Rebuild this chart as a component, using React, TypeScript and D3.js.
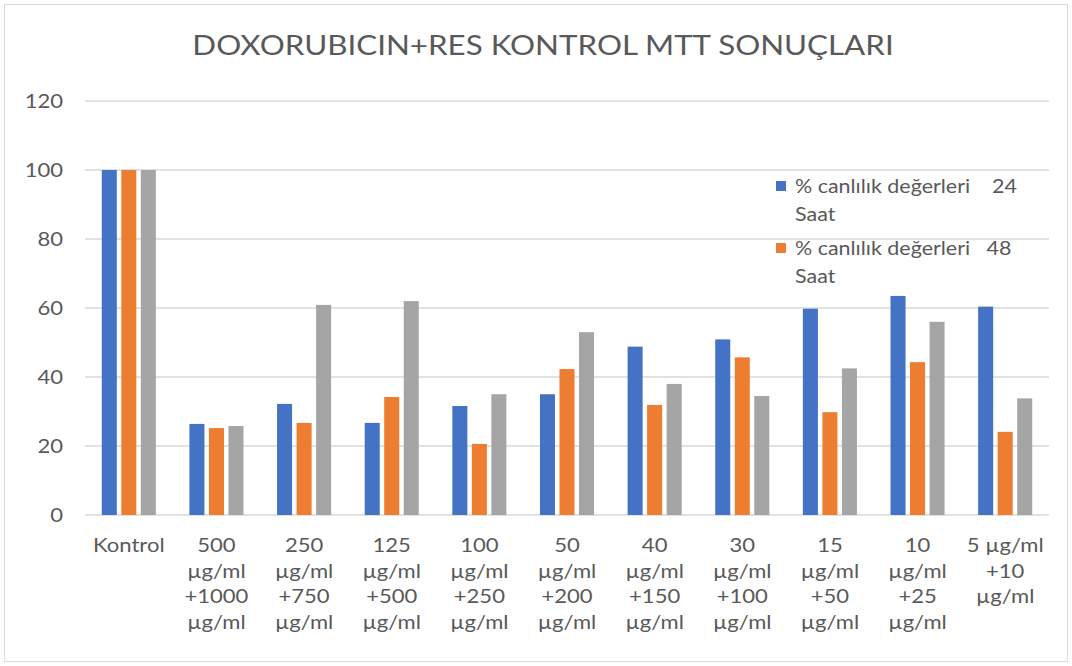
import React from 'react';
import * as d3 from 'd3';

const categories = [
  ['Kontrol'],
  ['500', 'µg/ml', '+1000', 'µg/ml'],
  ['250', 'µg/ml', '+750', 'µg/ml'],
  ['125', 'µg/ml', '+500', 'µg/ml'],
  ['100', 'µg/ml', '+250', 'µg/ml'],
  ['50', 'µg/ml', '+200', 'µg/ml'],
  ['40', 'µg/ml', '+150', 'µg/ml'],
  ['30', 'µg/ml', '+100', 'µg/ml'],
  ['15', 'µg/ml', '+50', 'µg/ml'],
  ['10', 'µg/ml', '+25', 'µg/ml'],
  ['5 µg/ml', '+10', 'µg/ml'],
];

const saat24 = [100, 26.4, 32.2, 26.7, 31.6, 35, 48.8, 50.9, 59.8, 63.5, 60.4];
const saat48 = [100, 25.2, 26.7, 34.2, 20.6, 42.3, 31.9, 45.7, 29.8, 44.3, 24.1];
const saat72 = [100, 25.8, 60.9, 62, 35, 53, 38, 34.5, 42.5, 56, 33.8];

const yTicks = [0, 20, 40, 60, 80, 100, 120];
const seriesColors = ['#4472C4', '#ED7D31', '#A5A5A5'];
const legendItems = [
  ['% canlılık değerleri    24', 'Saat'],
  ['% canlılık değerleri   48', 'Saat'],
];

const W = 1072;
const H = 666;
const font = 'Lato, "Open Sans", sans-serif';
const textColor = '#595959';
// the picture is stretched sideways, so text is too
const SX = 1.16;

const T = ({x, y, size, anchor = 'start', children}: any) => (
  <text transform={`translate(${x},${y}) scale(${SX},1)`} textAnchor={anchor}
    fontSize={size} fill={textColor} style={{whiteSpace: 'pre'}}>{children}</text>
);

export default function App() {
  const x = d3.scaleBand<number>()
    .domain(d3.range(categories.length))
    .range([85, 1049]);
  const y = d3.scaleLinear().domain([0, 120]).range([515, 101]);
  const inner = d3.scaleBand<number>()
    .domain([0, 1, 2])
    .range([0, x.bandwidth()])
    .paddingInner(0.23)
    .paddingOuter(0.86);

  const series = [saat24, saat48, saat72];

  return (
    <svg width={W} height={H} style={{position: 'absolute', left: 0, top: 0, fontFamily: font}}>
      <rect x={0} y={0} width={W} height={H} fill="#fff" />
      <rect x={4.5} y={4.5} width={W - 9} height={H - 9} fill="none" stroke="#d9d9d9" />
      <T x={543} y={55} size={27} anchor="middle">DOXORUBICIN+RES KONTROL MTT SONUÇLARI</T>
      <g>
        {yTicks.map(t => (
          <g key={t}>
            <line x1={85} x2={1049} y1={y(t)} y2={y(t)} stroke="#d9d9d9" strokeWidth={1.5} />
            <T x={63} y={y(t) + 7} size={19} anchor="end">{t}</T>
          </g>
        ))}
      </g>
      <g>
        {series.map((vals, s) => (
          <g key={s} fill={seriesColors[s]}>
            {vals.map((v, i) => (
              <rect key={i}
                x={(x(i) ?? 0) + (inner(s) ?? 0)}
                y={y(v)}
                width={inner.bandwidth()}
                height={y(0) - y(v)} />
            ))}
          </g>
        ))}
      </g>
      <g>
        {categories.map((lines, i) =>
          lines.map((l, k) => (
            <T key={i + '-' + k} x={(x(i) ?? 0) + x.bandwidth() / 2} y={552 + k * 25.5} size={19} anchor="middle">{l}</T>
          ))
        )}
      </g>
      <g>
        {legendItems.map((item, i) => (
          <g key={i} transform={`translate(776, ${181 + i * 62})`}>
            <rect x={0} y={0} width={10} height={10} fill={seriesColors[i]} />
            <T x={19} y={12} size={18.5}>{item[0]}</T>
            <T x={19} y={40} size={18.5}>{item[1]}</T>
          </g>
        ))}
      </g>
    </svg>
  );
}
